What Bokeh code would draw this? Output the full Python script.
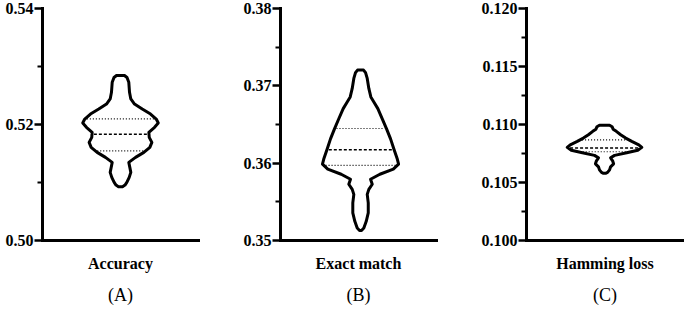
import numpy as np
from bokeh.plotting import figure
from bokeh.models import (ColumnDataSource, Range1d, FixedTicker, PrintfTickFormatter,
                          Title, LinearAxis)
from bokeh.layouts import row
from bokeh.embed import file_html
from bokeh.resources import INLINE

# ---------------- data ----------------
metric_names = ["Accuracy", "Exact match", "Hamming loss"]
panel_tags = ["(A)", "(B)", "(C)"]

acc_y = [0.52844, 0.52810, 0.52728, 0.52555, 0.52440, 0.52353, 0.52267, 0.52181,
         0.52094, 0.52025, 0.51951, 0.51865, 0.51778, 0.51692, 0.51606, 0.51519,
         0.51433, 0.51347, 0.51260, 0.51174, 0.51088, 0.51001, 0.50955, 0.50927]
acc_density = [0.105, 0.171, 0.218, 0.237, 0.271, 0.368, 0.571, 0.789,
               0.939, 0.992, 0.895, 0.745, 0.755, 0.824, 0.771, 0.613,
               0.395, 0.218, 0.245, 0.271, 0.229, 0.166, 0.118, 0.053]
acc_quartiles = [0.51545, 0.51830, 0.52097]

em_y = [0.37204, 0.37170, 0.37096, 0.36966, 0.36856, 0.36791, 0.36705, 0.36574,
        0.36444, 0.36314, 0.36183, 0.36053, 0.35987, 0.35922, 0.35857, 0.35792,
        0.35727, 0.35661, 0.35596, 0.35487, 0.35357, 0.35248, 0.35161, 0.35130]
em_density = [0.079, 0.132, 0.176, 0.218, 0.271, 0.350, 0.455, 0.571,
              0.684, 0.789, 0.876, 0.966, 1.000, 0.861, 0.508, 0.263,
              0.308, 0.218, 0.176, 0.203, 0.203, 0.150, 0.087, 0.026]
em_quartiles = [0.35972, 0.36174, 0.36448]

hl_y = [0.10994, 0.10981, 0.10960, 0.10941, 0.10912, 0.10883, 0.10854, 0.10825,
        0.10803, 0.10778, 0.10756, 0.10734, 0.10713, 0.10687, 0.10661, 0.10635,
        0.10609, 0.10587, 0.10579]
hl_density = [0.132, 0.197, 0.224, 0.308, 0.421, 0.553, 0.711, 0.895,
              0.974, 0.868, 0.579, 0.263, 0.158, 0.211, 0.237, 0.158,
              0.132, 0.079, 0.026]
hl_quartiles = [0.10765, 0.10797, 0.10868]

y_ranges = [(0.50, 0.54), (0.35, 0.38), (0.100, 0.120)]
major_ticks = [[0.50, 0.52, 0.54],
               [0.35, 0.36, 0.37, 0.38],
               [0.100, 0.105, 0.110, 0.115, 0.120]]
minor_ticks = [[0.51, 0.53],
               [0.355, 0.365, 0.375],
               [0.1025, 0.1075, 0.1125, 0.1175]]
tick_formats = ["%.2f", "%.2f", "%.3f"]

# ---------------- drawing ----------------
FONT = "Liberation Serif"
TICK_FONT = '"Liberation Serif"'
SCALE = 0.244           # density 1.0 -> half width in x units
centers = [0.5, 0.513, 0.497]
frame_widths = [156, 156, 157]
borders_left = [42, 42, 52]
borders_right = [40, 38, 1]

series = [(acc_y, acc_density, acc_quartiles),
          (em_y, em_density, em_quartiles),
          (hl_y, hl_density, hl_quartiles)]

figs = []
for i in range(3):
    yv, dv, qv = series[i]
    c = centers[i]
    p = figure(frame_width=frame_widths[i], frame_height=232,
               min_border_left=borders_left[i], min_border_right=borders_right[i],
               min_border_top=8, min_border_bottom=10,
               x_range=Range1d(0, 1), y_range=Range1d(*y_ranges[i]),
               x_axis_type=None, y_axis_type=None,
               toolbar_location=None, output_backend="svg")
    p.outline_line_color = None
    p.grid.visible = False
    p.background_fill_color = "white"
    p.border_fill_color = "white"

    # y axis
    ya = LinearAxis(
        ticker=FixedTicker(ticks=major_ticks[i], minor_ticks=minor_ticks[i]),
        formatter=PrintfTickFormatter(format=tick_formats[i]),
        axis_line_width=3, axis_line_cap="square",
        major_tick_line_width=2.5, minor_tick_line_width=2,
        major_tick_in=0, major_tick_out=8, minor_tick_in=0, minor_tick_out=5,
        major_label_standoff=1,
        major_label_text_font=TICK_FONT, major_label_text_font_style="bold",
        major_label_text_font_size="16px", major_label_text_color="black")
    p.add_layout(ya, "left")

    # x axis
    xa = LinearAxis(
        ticker=FixedTicker(ticks=[]),
        axis_line_width=3, axis_line_cap="square",
        major_tick_line_color=None, minor_tick_line_color=None,
        major_label_text_font_size="0px", major_label_standoff=0,
        axis_label=metric_names[i], axis_label_text_font=FONT,
        axis_label_text_font_style="bold", axis_label_text_font_size="16px",
        axis_label_text_color="black", axis_label_standoff=14)
    p.add_layout(xa, "below")

    t = Title(text=panel_tags[i], align="center", text_font=FONT,
              text_font_style="normal", text_font_size="18px", text_color="black",
              standoff=16)
    p.add_layout(t, "below")

    # violin outline
    ys = np.array(yv)
    ds = np.array(dv)
    xs_out = np.concatenate([c + SCALE * ds, (c - SCALE * ds)[::-1]])
    ys_out = np.concatenate([ys, ys[::-1]])
    src = ColumnDataSource(dict(x=xs_out, y=ys_out))
    p.patch("x", "y", source=src, fill_color="white", line_color="black",
            line_width=3, line_join="round")

    # quartile lines
    order = np.argsort(ys)
    hw = np.interp(qv, ys[order], ds[order]) * SCALE - 0.012
    x0 = [c - h for h in hw]
    x1 = [c + h for h in hw]
    p.segment(x0="x0", y0="y", x1="x1", y1="y",
              source=ColumnDataSource(dict(x0=[x0[0], x0[2]], x1=[x1[0], x1[2]],
                                           y=[qv[0], qv[2]])),
              line_color="black", line_width=1.2, line_dash="1 2")
    p.segment(x0="x0", y0="y", x1="x1", y1="y",
              source=ColumnDataSource(dict(x0=[x0[1]], x1=[x1[1]], y=[qv[1]])),
              line_color="black", line_width=1.5, line_dash="3 2")
    figs.append(p)

layout = row(*figs)
open("out.html", "w").write(file_html(layout, INLINE))
